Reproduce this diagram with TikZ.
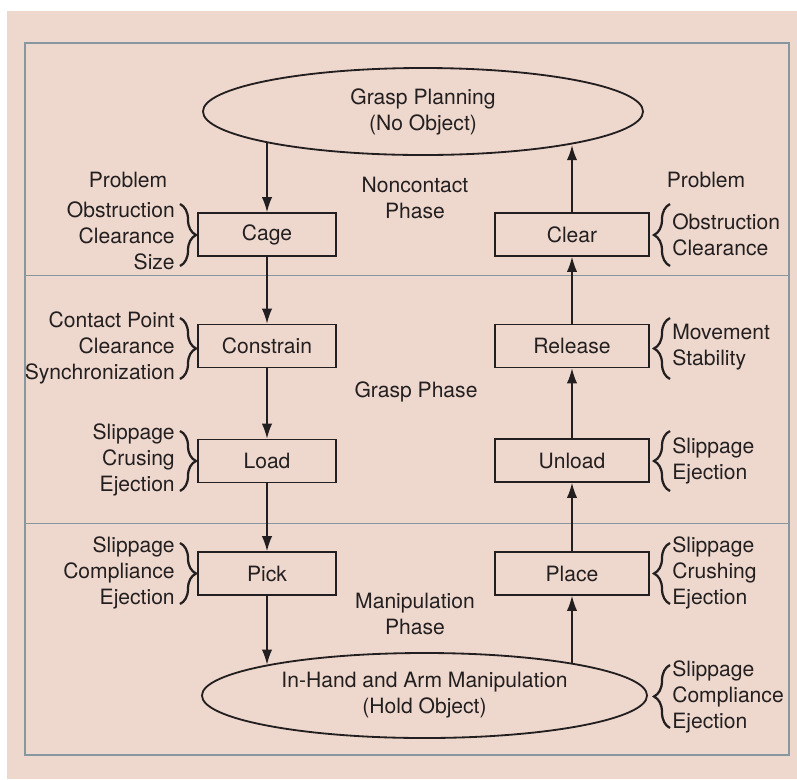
\documentclass[tikz,border=0pt]{standalone}
\usepackage{fontspec}
\setmainfont{TeX Gyre Heros}
\usepackage{tikz}
\usetikzlibrary{arrows.meta,shapes.geometric,decorations.pathreplacing}

\definecolor{paper}{HTML}{EED8CD}
\definecolor{frame}{HTML}{86979F}
\definecolor{ink}{HTML}{231F20}

\tikzset{
  stage/.style={draw=ink,line width=0.9pt,minimum height=1.075cm,inner sep=0pt},
  lstage/.style={stage,minimum width=3.45cm},
  rstage/.style={stage,minimum width=3.85cm},
  oval/.style={ellipse,draw=ink,line width=1.3pt,inner sep=0pt,align=center},
  flow/.style={draw=ink,line width=1.3pt,-{Latex[length=3.8mm,width=2.6mm]}},
  cbrace/.style={draw=ink,line width=1.6pt,decorate,decoration={brace,amplitude=0.4cm,aspect=0.5}},
  lissue/.style={align=right,anchor=east,inner sep=0pt},
  rissue/.style={align=left,anchor=west,inner sep=0pt},
  phase/.style={align=center,inner sep=0pt}
}

\begin{document}
\begin{tikzpicture}[x=0.025cm,y=-0.025cm,text=ink,font=\fontsize{15}{18.5}\selectfont]
    \useasboundingbox (0,0) rectangle (797,779);
    \fill[paper] (7,11) rectangle (797,779);
    \draw[frame,line width=1pt] (25,43) rectangle (789,755);
    \draw[frame,line width=0.7pt] (25,275) -- (789,275);
    \draw[frame,line width=0.7pt] (25,523) -- (789,523);

    % end states
    \node[oval,minimum width=11cm,minimum height=2.175cm] (plan) at (423,111.5) {Grasp Planning\\(No Object)};
    \node[oval,minimum width=11.125cm,minimum height=2.125cm] (manip) at (424.5,695.5) {In-Hand and Arm Manipulation\\(Hold Object)};

    % pick side
    \node[lstage] (cage) at (267,234.5) {Cage};
    \node[lstage] (constrain) at (267,346) {Constrain};
    \node[lstage] (load) at (267,461) {Load};
    \node[lstage] (pick) at (267,573.5) {Pick};

    % place side
    \node[rstage] (clear) at (572,234.5) {Clear};
    \node[rstage] (release) at (572,346) {Release};
    \node[rstage] (unload) at (572,460.5) {Unload};
    \node[rstage] (place) at (572,573.5) {Place};

    \draw[flow] (plan.191.1 -| cage.north) -- (cage.north);
    \draw[flow] (cage) -- (constrain);
    \draw[flow] (constrain) -- (load);
    \draw[flow] (load) -- (pick);
    \draw[flow] (pick.south) -- (manip.169.35 -| pick.south);
    \draw[flow] (manip.12.17 -| place.south) -- (place.south);
    \draw[flow] (place) -- (unload);
    \draw[flow] (unload) -- (release);
    \draw[flow] (release) -- (clear);
    \draw[flow] (clear.north) -- (plan.347.9 -| clear.north);

    % phases
    \node[phase] (noncontact) at (415,197.5) {Noncontact\\Phase};
    \node[phase] (graspph) at (416,392) {Grasp Phase};
    \node[phase] (manipph) at (415,614) {Manipulation\\Phase};

    \node (lprob) at (128,180) {Problem};
    \node (rprob) at (706,180) {Problem};

    % problems, left
    \node[lissue] (cageiss) at (175,236) {Obstruction\\Clearance\\Size};
    \draw[cbrace] (180,204) -- (180,266);
    \node[lissue] (constriss) at (175,348) {Contact Point\\Clearance\\Synchronization};
    \draw[cbrace] (180,318) -- (180,379);
    \node[lissue] (loadiss) at (175,460) {Slippage\\Crusing\\Ejection};
    \draw[cbrace] (180,431) -- (180,491);
    \node[lissue] (pickiss) at (175,573) {Slippage\\Compliance\\Ejection};
    \draw[cbrace] (180,543) -- (180,604);

    % problems, right
    \node[rissue] (cleariss) at (672,234.5) {Obstruction\\Clearance};
    \draw[cbrace] (670,266) -- (670,204);
    \node[rissue] (releaseiss) at (672,347.5) {Movement\\Stability};
    \draw[cbrace] (670,379) -- (670,318);
    \node[rissue] (unloadiss) at (672,460.5) {Slippage\\Ejection};
    \draw[cbrace] (670,491) -- (670,431);
    \node[rissue] (placeiss) at (672,573) {Slippage\\Crushing\\Ejection};
    \draw[cbrace] (670,604) -- (670,543);
    \node[rissue] (manipiss) at (672,697) {Slippage\\Compliance\\Ejection};
    \draw[cbrace] (670,728) -- (670,665);
\end{tikzpicture}
\end{document}
